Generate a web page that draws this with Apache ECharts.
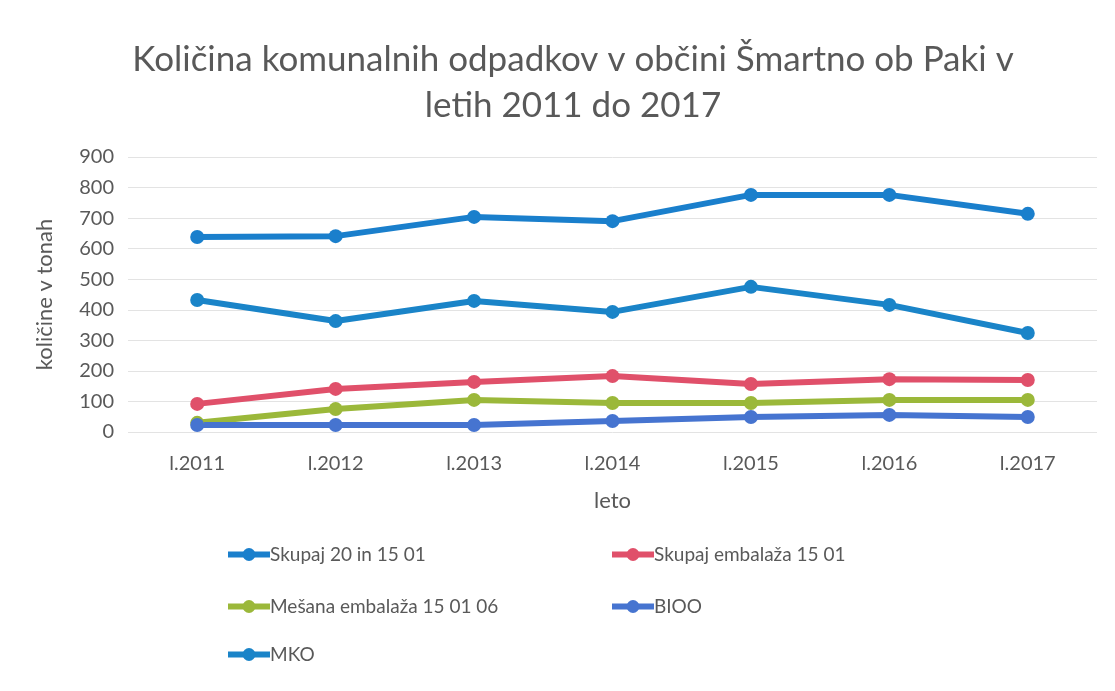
<!DOCTYPE html>
<html>
<head>
<meta charset="utf-8">
<script src="https://cdn.jsdelivr.net/npm/echarts@6/dist/echarts.min.js"></script>
<style>
  html, body { margin: 0; padding: 0; background: #fff; }
  #main { width: 1115px; height: 691px; }
</style>
</head>
<body>
<div id="main"></div>
<script>
var years = ['l.2011', 'l.2012', 'l.2013', 'l.2014', 'l.2015', 'l.2016', 'l.2017'];
var skupaj = [638, 641, 704, 690, 776, 776, 714];
var embalaza = [92, 141, 164, 183, 157, 173, 170];
var mesana = [30, 75, 105, 95, 95, 105, 105];
var bioo = [23, 23, 23, 36, 49, 56, 49];
var mko = [432, 363, 429, 393, 475, 416, 324];

var font = 'Lato';
var grey = '#595959';

function line(name, data, color) {
  return {
    name: name,
    type: 'line',
    data: data,
    symbol: 'circle',
    symbolSize: 14,
    lineStyle: { width: 6, color: color },
    itemStyle: { color: color },
    z: 3
  };
}

function leg(name, left, top) {
  return {
    data: [name],
    left: left, top: top,
    itemWidth: 42, itemHeight: 16, itemGap: 0,
    lineStyle: { width: 6 },
    textStyle: { color: grey, fontFamily: font, fontSize: 19, padding: [0, 0, 0, -5] }
  };
}

var myChart = echarts.init(document.getElementById('main'));
var option = {
  backgroundColor: '#fff',
  animation: false,
  title: {
    text: 'Količina komunalnih odpadkov v občini Šmartno ob Paki v\nletih 2011 do 2017',
    left: 568, top: 32, textAlign: 'center',
    textStyle: { color: grey, fontFamily: font, fontSize: 35, fontWeight: 'normal', lineHeight: 46 }
  },
  grid: { left: 128, right: 18, top: 157, bottom: 259 },
  legend: [
    leg('Skupaj 20 in 15 01', 220, 540),
    leg('Skupaj embalaža 15 01', 604, 540),
    leg('Mešana embalaža 15 01 06', 220, 592),
    leg('BIOO', 604, 592),
    leg('MKO', 220, 640)
  ],
  xAxis: {
    type: 'category',
    data: years,
    name: 'leto',
    nameLocation: 'middle',
    nameGap: 58,
    nameTextStyle: { color: grey, fontFamily: font, fontSize: 22 },
    axisLine: { show: false },
    axisTick: { show: false },
    axisLabel: { color: grey, fontFamily: font, fontSize: 20, margin: 22 }
  },
  yAxis: {
    type: 'value',
    min: 0, max: 900, interval: 100,
    name: 'količine v tonah',
    nameLocation: 'middle',
    nameGap: 72,
    nameTextStyle: { color: grey, fontFamily: font, fontSize: 22 },
    axisLine: { show: false },
    axisTick: { show: false },
    axisLabel: { color: grey, fontFamily: font, fontSize: 20, margin: 14 },
    splitLine: { lineStyle: { color: '#e3e3e3', width: 1 } }
  },
  series: [
    line('Skupaj 20 in 15 01', skupaj, '#1a7fcc'),
    line('Skupaj embalaža 15 01', embalaza, '#e0506a'),
    line('Mešana embalaža 15 01 06', mesana, '#9bb83a'),
    line('BIOO', bioo, '#4674d0'),
    line('MKO', mko, '#1a84c8')
  ]
};
myChart.setOption(option);
</script>
</body>
</html>
